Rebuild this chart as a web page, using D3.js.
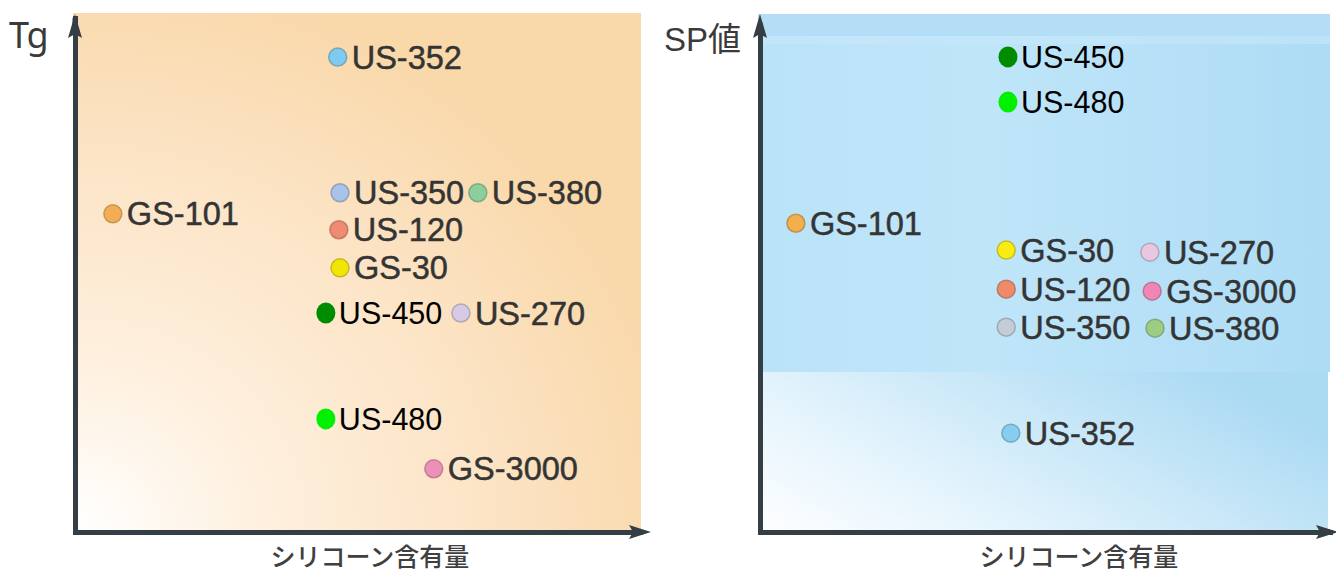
<!DOCTYPE html>
<html>
<head>
<meta charset="utf-8">
<script src="https://cdn.jsdelivr.net/npm/d3@7"></script>
<style>
  html, body { margin: 0; padding: 0; background: #fff; }
  svg { display: block; }
</style>
</head>
<body>
<div id="chart"></div>
<script>
// grades shown in both panels
const grades = ["US-352", "GS-101", "US-350", "US-380", "US-120", "GS-30", "US-450", "US-270", "US-480", "GS-3000"];
const highlighted = ["US-450", "US-480"];

// left panel: silicone content vs Tg (relative 0-100)
const tgSilicone = [46.5, 6.7, 46.9, 71.3, 46.7, 46.9, 44.4, 68.3, 44.4, 63.5];
const tgValues   = [92.4, 61.9, 66.0, 66.0, 58.8, 51.4, 42.6, 42.6, 22.0, 12.3];
const tgColors   = ["#7ecbef", "#f3ae55", "#a9c2ea", "#8ccf9c", "#ef8b72", "#f2e600", "#008c00", "#d6cae6", "#00f000", "#ee8fba"];

// right panel: silicone content vs SP value (relative 0-100)
const spSilicone = [44.0, 6.3, 43.2, 69.3, 43.2, 43.2, 43.5, 68.4, 43.5, 68.8];
const spValues   = [19.5, 60.9, 40.4, 40.2, 47.9, 55.6, 93.7, 55.2, 84.8, 47.5];
const spColors   = ["#86cdf0", "#f3ae4d", "#c4ccd8", "#9dcd84", "#ef8a6a", "#f8ec10", "#008c00", "#e8c8e0", "#00f000", "#ef86b4"];

const xTitle = "シリコーン含有量";

const W = 1336, H = 574;
const svg = d3.select('#chart').append('svg')
    .attr('width', W)
    .attr('height', H);

const defs = svg.append('defs');

// warm background for Tg panel
const warm = defs.append('radialGradient')
    .attr('id', 'warm').attr('cx', 0).attr('cy', 1).attr('r', 1.1).attr('fx', 0).attr('fy', 1);
warm.append('stop').attr('offset', '0%').attr('stop-color', '#ffffff');
warm.append('stop').attr('offset', '30%').attr('stop-color', '#fef0de');
warm.append('stop').attr('offset', '65%').attr('stop-color', '#fce4c6');
warm.append('stop').attr('offset', '100%').attr('stop-color', '#f9d8a9');

// cool backgrounds for SP panel
const coolTop = defs.append('linearGradient')
    .attr('id', 'coolTop').attr('x1', 0).attr('y1', 0).attr('x2', 1).attr('y2', 0);
coolTop.append('stop').attr('offset', '0%').attr('stop-color', '#bbe3f8');
coolTop.append('stop').attr('offset', '40%').attr('stop-color', '#bfe5f9');
coolTop.append('stop').attr('offset', '100%').attr('stop-color', '#aedcf5');

const coolLow = defs.append('linearGradient')
    .attr('id', 'coolLow').attr('x1', 0).attr('y1', 0.9).attr('x2', 1).attr('y2', 0.4);
coolLow.append('stop').attr('offset', '0%').attr('stop-color', '#fbfdff');
coolLow.append('stop').attr('offset', '35%').attr('stop-color', '#e2f3fc');
coolLow.append('stop').attr('offset', '100%').attr('stop-color', '#abdaf3');

const axisColor = '#363e45';

function drawPanel(cfg) {
    const x = d3.scaleLinear().domain([0, 100]).range(cfg.xRange);
    const y = d3.scaleLinear().domain([0, 100]).range(cfg.yRange);
    const g = svg.append('g');

    cfg.background(g, x, y);

    // axes without ticks, just the thick domain line
    const yAxis = g.append('g')
        .attr('transform', `translate(${x.range()[0]},0)`)
        .call(d3.axisLeft(y).ticks(0).tickSizeOuter(0));
    const xAxis = g.append('g')
        .attr('transform', `translate(0,${y.range()[0]})`)
        .call(d3.axisBottom(x).ticks(0).tickSizeOuter(0));
    [yAxis, xAxis].forEach(a => a.select('.domain')
        .attr('stroke', axisColor)
        .attr('stroke-width', 5)
        .attr('stroke-linecap', 'square'));

    // arrow heads
    const x0 = x.range()[0], yTop = y.range()[1];
    const tipY = cfg.yTip;
    g.append('path')
        .attr('d', `M${x0},${tipY} L${x0 + 7},${tipY + 24} L${x0},${tipY + 20} L${x0 - 7},${tipY + 24} Z`)
        .attr('fill', axisColor);
    g.append('line')
        .attr('x1', x0).attr('x2', x0).attr('y1', yTop).attr('y2', tipY + 18)
        .attr('stroke', axisColor).attr('stroke-width', 5);
    const y0 = y.range()[0], xEnd = x.range()[1];
    const tipX = cfg.xTip;
    g.append('path')
        .attr('d', `M${tipX},${y0} L${tipX - 22},${y0 - 7} L${tipX - 18},${y0} L${tipX - 22},${y0 + 7} Z`)
        .attr('fill', axisColor);
    g.append('line')
        .attr('x1', xEnd).attr('x2', tipX - 16).attr('y1', y0).attr('y2', y0)
        .attr('stroke', axisColor).attr('stroke-width', 5);

    // axis titles
    g.append('text')
        .attr('x', cfg.yTitleX).attr('y', cfg.yTitleY)
        .attr('font-family', cfg.yTitleFont)
        .attr('font-size', cfg.yTitleSize)
        .attr('fill', '#3a3a3a')
        .text(cfg.yTitle);
    g.append('text')
        .attr('x', cfg.xTitleX).attr('y', 566)
        .attr('text-anchor', 'middle')
        .attr('font-family', '"Noto Sans CJK JP", sans-serif')
        .attr('font-size', 25)
        .attr('font-weight', 500)
        .attr('fill', '#404040')
        .text(xTitle);

    // points
    const pts = grades.map((name, i) => ({
        name,
        xv: cfg.xs[i],
        yv: cfg.ys[i],
        color: cfg.colors[i],
        hi: highlighted.includes(name)
    }));

    const pt = g.append('g').selectAll('g')
        .data(pts)
        .enter()
        .append('g')
        .attr('transform', d => `translate(${x(d.xv)},${y(d.yv)})`);

    pt.append('ellipse')
        .attr('rx', d => d.hi ? 9.5 : 9)
        .attr('ry', d => d.hi ? 10.5 : 9)
        .attr('fill', d => d.color)
        .attr('stroke', d => d.hi ? 'none' : d3.color(d.color).darker(0.9))
        .attr('stroke-opacity', 0.7)
        .attr('stroke-width', 1.5);

    pt.append('text')
        .attr('x', d => d.hi ? 13 : 14)
        .attr('y', d => d.hi ? 11 : 11.5)
        .attr('font-family', '"Liberation Sans", Arial, sans-serif')
        .attr('font-size', d => d.hi ? 30.5 : 32.5)
        .attr('fill', d => d.hi ? '#000' : '#343434')
        .attr('stroke', d => d.hi ? 'none' : '#343434')
        .attr('stroke-width', 0.5)
        .text(d => d.name);
}

drawPanel({
    xRange: [75, 640], yRange: [532, 18],
    xTip: 651, yTip: 14,
    xs: tgSilicone, ys: tgValues, colors: tgColors,
    yTitle: 'Tg', yTitleX: 9, yTitleY: 48, yTitleSize: 36,
    yTitleFont: '"Noto Sans", Lato, sans-serif',
    xTitleX: 370,
    background: (g) => {
        g.append('rect')
            .attr('x', 73).attr('y', 13).attr('width', 568).attr('height', 517)
            .attr('fill', 'url(#warm)');
    }
});

drawPanel({
    xRange: [760, 1330], yRange: [532, 25],
    xTip: 1338, yTip: 14,
    xs: spSilicone, ys: spValues, colors: spColors,
    yTitle: 'SP値', yTitleX: 664, yTitleY: 51, yTitleSize: 33,
    yTitleFont: '"Liberation Sans", "Noto Sans CJK JP", sans-serif',
    xTitleX: 1079,
    background: (g) => {
        g.append('rect')
            .attr('x', 758).attr('y', 14).attr('width', 572).attr('height', 358)
            .attr('fill', 'url(#coolTop)');
        g.append('rect')
            .attr('x', 758).attr('y', 14).attr('width', 572).attr('height', 22)
            .attr('fill', '#b3def6');
        g.append('rect')
            .attr('x', 758).attr('y', 36).attr('width', 572).attr('height', 8)
            .attr('fill', '#c6e8fa')
            .attr('opacity', 0.6);
        g.append('rect')
            .attr('x', 758).attr('y', 372).attr('width', 570).attr('height', 158)
            .attr('fill', 'url(#coolLow)');
    }
});
</script>
</body>
</html>
